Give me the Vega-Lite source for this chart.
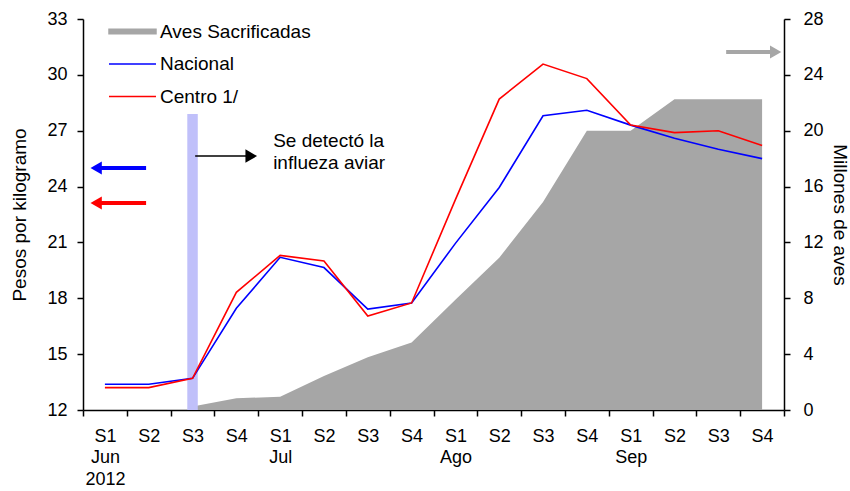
{
  "$schema": "https://vega.github.io/schema/vega-lite/v6.json",
  "width": 701,
  "height": 391,
  "autosize": {"type": "none"},
  "padding": {"left": 83, "top": 19, "right": 66, "bottom": 81},
  "config": {
    "font": "Liberation Sans",
    "view": {"stroke": null},
    "legend": {"title": null},
    "axis": {"labelFont": "Liberation Sans", "titleFont": "Liberation Sans", "labelFontSize": 18, "titleFontSize": 19, "titleFontWeight": "normal", "labelColor": "#000", "titleColor": "#000", "domainColor": "#000", "tickColor": "#000", "domainWidth": 1.5, "tickWidth": 1.5, "tickSize": 6, "grid": false}
  },
  "datasets": {
    "semanas": [
      {"idx": 0, "nac": 13.38, "centro": 13.2, "aves": null},
      {"idx": 1, "nac": 13.38, "centro": 13.2, "aves": null},
      {"idx": 2, "nac": 13.7, "centro": 13.7, "aves": 0.25},
      {"idx": 3, "nac": 17.46, "centro": 18.32, "aves": 0.84},
      {"idx": 4, "nac": 20.2, "centro": 20.3, "aves": 0.95},
      {"idx": 5, "nac": 19.65, "centro": 20.0, "aves": 2.44},
      {"idx": 6, "nac": 17.42, "centro": 17.05, "aves": 3.77},
      {"idx": 7, "nac": 17.75, "centro": 17.75, "aves": 4.84},
      {"idx": 8, "nac": 20.95, "centro": 23.3, "aves": 7.9},
      {"idx": 9, "nac": 23.95, "centro": 28.7, "aves": 10.9},
      {"idx": 10, "nac": 27.8, "centro": 30.58, "aves": 14.9},
      {"idx": 11, "nac": 28.1, "centro": 29.8, "aves": 20.0},
      {"idx": 12, "nac": 27.3, "centro": 27.3, "aves": 20.0},
      {"idx": 13, "nac": 26.6, "centro": 26.9, "aves": 22.25},
      {"idx": 14, "nac": 26.0, "centro": 27.0, "aves": 22.25},
      {"idx": 15, "nac": 25.5, "centro": 26.2, "aves": 22.25}
    ],
    "flechas": [
      {"serie": "Nacional", "x": -0.2, "x2": 0.94, "punta": -0.2, "y": 25.0, "dir": "izq"},
      {"serie": "Centro 1/", "x": -0.2, "x2": 0.94, "punta": -0.2, "y": 23.12, "dir": "izq"},
      {"serie": "Aves Sacrificadas", "x": 14.18, "x2": 15.3, "punta": 15.31, "y": 31.23, "dir": "der"}
    ]
  },
  "layer": [
    {
      "data": {"name": "semanas"},
      "transform": [{"filter": "datum.aves != null"}],
      "mark": {"type": "area", "color": "#a6a6a6", "opacity": 1},
      "encoding": {
        "x": {"field": "idx", "type": "quantitative", "title": null, "scale": {"domain": [-0.5, 15.5], "nice": false, "zero": false},
          "axis": {"values": [-0.5, 0.5, 1.5, 2.5, 3.5, 4.5, 5.5, 6.5, 7.5, 8.5, 9.5, 10.5, 11.5, 12.5, 13.5, 14.5, 15.5],
            "labelExpr": "split(['S1|Jun|2012','S2','S3','S4','S1|Jul','S2','S3','S4','S1|Ago','S2','S3','S4','S1|Sep','S2','S3','S4',''][round(datum.value + 0.5)], '|')",
            "labelOffset": 21.9, "labelPadding": 11, "labelLineHeight": 21.5, "labelOverlap": false, "labelFlush": false, "labelBound": false}},
        "y": {"field": "aves", "type": "quantitative", "title": "Millones de aves", "scale": {"domain": [0, 28], "nice": false},
          "axis": {"orient": "right", "values": [0, 4, 8, 12, 16, 20, 24, 28], "titlePadding": 6, "labelPadding": 13}},
        "color": {"datum": "Aves Sacrificadas", "type": "nominal",
          "scale": {"domain": ["Aves Sacrificadas", "Nacional", "Centro 1/"], "range": ["#a6a6a6", "#0000ff", "#ff0000"]},
          "legend": {"title": null, "orient": "none", "legendX": 37, "legendY": 0, "symbolType": "M-2,0H2", "symbolSize": 552, "labelFontSize": 19, "labelFont": "Liberation Sans", "labelColor": "#000", "labelOffset": 15, "rowPadding": 9.5, "symbolStrokeWidth": 1.5,
            "encode": {"symbols": {"update": {
              "shape": {"signal": "datum.label === 'Aves Sacrificadas' ? 'M-2,-0.19H2V0.19H-2Z' : 'M-2,0H2'"},
              "fill": {"signal": "datum.label === 'Aves Sacrificadas' ? '#a6a6a6' : 'transparent'"},
              "stroke": {"signal": "datum.label === 'Aves Sacrificadas' ? 'transparent' : datum.label === 'Nacional' ? '#0000ff' : '#ff0000'"},
              "strokeWidth": {"value": 1.5},
              "opacity": {"value": 1}}}}}}
      }
    },
    {
      "layer": [
        {
          "data": {"values": [{"idx": 2, "y": 12, "y2": 27.9}]},
          "mark": {"type": "rule", "color": "#c0c0fa", "strokeWidth": 10.5},
          "encoding": {
            "x": {"field": "idx", "type": "quantitative", "title": null},
            "y": {"field": "y", "type": "quantitative", "title": "Pesos por kilogramo", "scale": {"domain": [12, 33], "nice": false, "zero": false},
              "axis": {"orient": "left", "values": [12, 15, 18, 21, 24, 27, 30, 33], "titlePadding": 17, "labelPadding": 10}},
            "y2": {"field": "y2"}
          }
        },
        {
          "data": {"name": "semanas"},
          "transform": [{"fold": ["nac", "centro"], "as": ["k", "v"]},
            {"calculate": "datum.k === 'nac' ? 'Nacional' : 'Centro 1/'", "as": "serie"}],
          "mark": {"type": "line", "strokeWidth": 1.6},
          "encoding": {
            "x": {"field": "idx", "type": "quantitative", "title": null},
            "y": {"field": "v", "type": "quantitative", "title": "Pesos por kilogramo"},
            "color": {"field": "serie", "type": "nominal",
              "legend": {"title": null, "orient": "none", "legendX": 37, "legendY": 0, "symbolType": "M-2,0H2", "symbolSize": 552, "labelFontSize": 19, "labelFont": "Liberation Sans", "labelColor": "#000", "labelOffset": 15, "rowPadding": 9.5, "symbolStrokeWidth": 1.5,
                "encode": {"symbols": {"update": {
                  "shape": {"signal": "datum.label === 'Aves Sacrificadas' ? 'M-2,-0.19H2V0.19H-2Z' : 'M-2,0H2'"},
                  "fill": {"signal": "datum.label === 'Aves Sacrificadas' ? '#a6a6a6' : 'transparent'"},
                  "stroke": {"signal": "datum.label === 'Aves Sacrificadas' ? 'transparent' : datum.label === 'Nacional' ? '#0000ff' : '#ff0000'"},
                  "strokeWidth": {"value": 1.5},
                  "opacity": {"value": 1}}}}}},
            "detail": {"field": "serie"}
          }
        },
        {
          "data": {"name": "flechas"},
          "mark": {"type": "rule", "strokeWidth": 4},
          "encoding": {
            "x": {"field": "x", "type": "quantitative", "title": null},
            "x2": {"field": "x2"},
            "y": {"field": "y", "type": "quantitative", "title": "Pesos por kilogramo"},
            "color": {"field": "serie", "type": "nominal", "legend": {"title": null}}
          }
        },
        {
          "data": {"name": "flechas"},
          "mark": {"type": "point", "filled": true, "size": 170, "opacity": 1},
          "encoding": {
            "x": {"field": "punta", "type": "quantitative", "title": null},
            "y": {"field": "y", "type": "quantitative", "title": "Pesos por kilogramo"},
            "shape": {"field": "dir", "type": "nominal", "scale": {"domain": ["izq", "der"], "range": ["triangle-left", "triangle-right"]}, "legend": null},
            "color": {"field": "serie", "type": "nominal", "legend": {"title": null}}
          }
        },
        {
          "data": {"values": [{"x": 2.06, "x2": 3.3, "y": 25.64}]},
          "mark": {"type": "rule", "color": "#000", "strokeWidth": 1.5},
          "encoding": {
            "x": {"field": "x", "type": "quantitative", "title": null},
            "x2": {"field": "x2"},
            "y": {"field": "y", "type": "quantitative", "title": "Pesos por kilogramo"}
          }
        },
        {
          "data": {"values": [{"y": 25.64, "xf": 3.34}]},
          "mark": {"type": "point", "shape": "triangle-right", "filled": true, "color": "#000", "size": 180, "opacity": 1},
          "encoding": {
            "x": {"field": "xf", "type": "quantitative", "title": null},
            "y": {"field": "y", "type": "quantitative", "title": "Pesos por kilogramo"}
          }
        },
        {
          "data": {"values": [{"x": 3.84, "y": 26.45, "texto": ["Se detectó  la", "influeza aviar"]}]},
          "mark": {"type": "text", "align": "left", "baseline": "middle", "fontSize": 19, "font": "Liberation Sans", "lineHeight": 22, "color": "#000"},
          "encoding": {
            "x": {"field": "x", "type": "quantitative", "title": null},
            "y": {"field": "y", "type": "quantitative", "title": "Pesos por kilogramo"},
            "text": {"field": "texto"}
          }
        }
      ]
    }
  ],
  "resolve": {"scale": {"y": "independent"}}
}
